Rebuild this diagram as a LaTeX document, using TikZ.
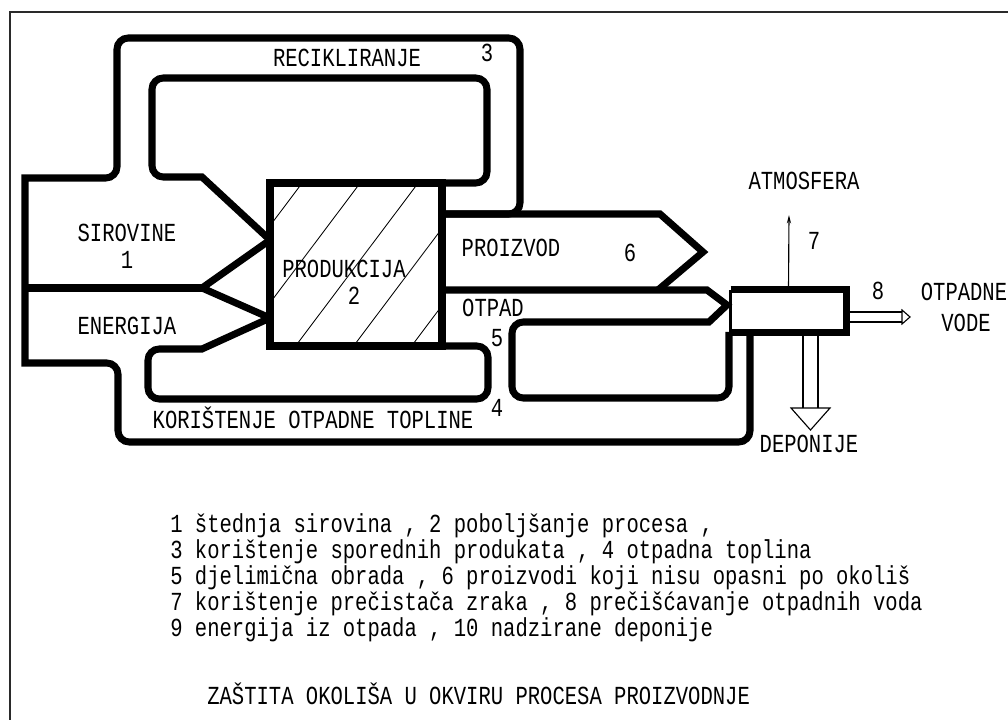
\documentclass[tikz,border=0pt]{standalone}
\usepackage{fontspec}
\usepackage{xcolor}
\usepackage{tikz}
\usetikzlibrary{arrows.meta}
\newfontfamily\cadfont[FakeStretch=0.79]{Liberation Mono}
\definecolor{ink}{HTML}{000000}
\definecolor{rimgray}{HTML}{2A2A2A}
\tikzset{
  flow/.style={draw=ink, line width=5pt},
  side/.style={draw=ink, line width=2.4pt},
  hatch/.style={draw=ink, line width=0.6pt},
  fine/.style={draw=ink, line width=0.8pt},
  vent/.style={-{Stealth[length=6pt,width=3pt]}, draw=ink, line width=0.8pt},
  rim/.style={draw=rimgray, line width=1.8pt},
  lab/.style={text=ink, font=\cadfont\fontsize{18.5pt}{18.5pt}\selectfont, inner sep=0pt, anchor=base}
}

\begin{document}
\begin{tikzpicture}[x=0.025cm, y=-0.025cm]
  \useasboundingbox (0,0) rectangle (1008,720);
  % frame
  \draw[rim] (10,720) -- (10,12) -- (1008,12);

  % production box
  \begin{scope}
    \clip (270,183) rectangle (442,346);
    \foreach \hx in {302,360,418,476,534}
      \draw[hatch] (\hx+40,130) -- (\hx-160,396);
  \end{scope}
  \draw[flow] (270,183) rectangle (442,346);

  % outer loops (3, 4) and inputs
  \draw[flow, rounded corners=8pt] (442,214) -- (520,214) -- (520,38) -- (117,38) -- (117,178) -- (70,178) [sharp corners] -- (25,178) -- (25,363) -- (70,363) [rounded corners=8pt] -- (118,363) -- (118,442) -- (750,442) -- (750,332);
  % inner recycling loop, raw materials
  \draw[flow, rounded corners=8pt] (442,183) -- (487,183) -- (487,78) -- (152,78) -- (152,177) -- (180,177) [sharp corners] -- (202,177) -- (270,240);
  \draw[flow] (270,240) -- (202,288) -- (270,318);
  \draw[flow] (25,288) -- (202,288);
  % energy, inner waste heat loop
  \draw[flow] (270,318) -- (202,349) -- (180,349) [rounded corners=8pt] -- (148,349) -- (148,399) -- (488,399) -- (488,346) -- (442,346);

  % product (6)
  \draw[flow] (442,214) -- (660,214) -- (703,252) -- (658,290);
  % waste, treatment loop (5)
  \draw[flow] (442,290) -- (707,290) -- (727,305) -- (709,322) -- (540,322) [rounded corners=8pt] -- (512,322) -- (512,398) -- (729,398) -- (729,332);

  % treatment unit
  \node[minimum width=2.875cm, minimum height=1.05cm, inner sep=0pt] (unit) at (788.5,311) {};
  \draw[flow] (unit.north west) -- (unit.north east) -- (unit.south east) -- (unit.south west);
  \draw[side] (unit.north west) -- (unit.south west);

  % air (7)
  \coordinate (air) at (789,215);
  \draw[vent] (unit.north) -- (air);
  % waste water (8)
  \draw[fine] (846,312) -- (902,312);
  \draw[fine] (846,322) -- (902,322);
  \draw[fine] (902,310) -- (910,317) -- (902,324) -- cycle;
  % landfill
  \draw[fine] (803,332) -- (803,408);
  \draw[fine] (818,332) -- (818,408);
  \draw[fine] (791,408) -- (830,408) -- (810.5,430) -- cycle;

  % labels
  \node[lab] (recik) at (347,67) {RECIKLIRANJE};
  \node[lab] (n3) at (487,62) {3};
  \node[lab] (sirov) at (127,242) {SIROVINE};
  \node[lab] (n1) at (127,269) {1};
  \node[lab] (energ) at (127,335) {ENERGIJA};
  \node[lab] (prod) at (344,278) {PRODUKCIJA};
  \node[lab] (n2) at (354,305) {2};
  \node[lab] (toplina) at (313,429) {KORIŠTENJE OTPADNE TOPLINE};
  \node[lab] (n4) at (497,417) {4};
  \node[lab] (n5) at (497,347) {5};
  \node[lab] (proizv) at (511,257) {PROIZVOD};
  \node[lab] (n6) at (630,262) {6};
  \node[lab] (otpad) at (493,317) {OTPAD};
  \node[lab] (n7) at (814,250) {7};
  \node[lab] (atmos) at (804,190) {ATMOSFERA};
  \node[lab] (n8) at (878,300) {8};
  \node[lab] (otpvod) at (964,301) {OTPADNE};
  \node[lab] (vode) at (966,332) {VODE};
  \node[lab] (depon) at (809,453) {DEPONIJE};

  % legend
  \node[lab, anchor=base west] (leg1) at (170,533) {1 štednja sirovina , 2 poboljšanje procesa ,};
  \node[lab, anchor=base west] (leg2) at (170,559) {3 korištenje sporednih produkata , 4 otpadna toplina};
  \node[lab, anchor=base west] (leg3) at (170,585) {5 djelimična obrada , 6 proizvodi koji nisu opasni po okoliš};
  \node[lab, anchor=base west] (leg4) at (170,611) {7 korištenje prečistača zraka , 8 prečišćavanje otpadnih voda};
  \node[lab, anchor=base west] (leg5) at (170,637) {9 energija iz otpada , 10 nadzirane deponije};
  \node[lab, anchor=base west] (title) at (207,705) {ZAŠTITA OKOLIŠA U OKVIRU PROCESA PROIZVODNJE};
\end{tikzpicture}
\end{document}
